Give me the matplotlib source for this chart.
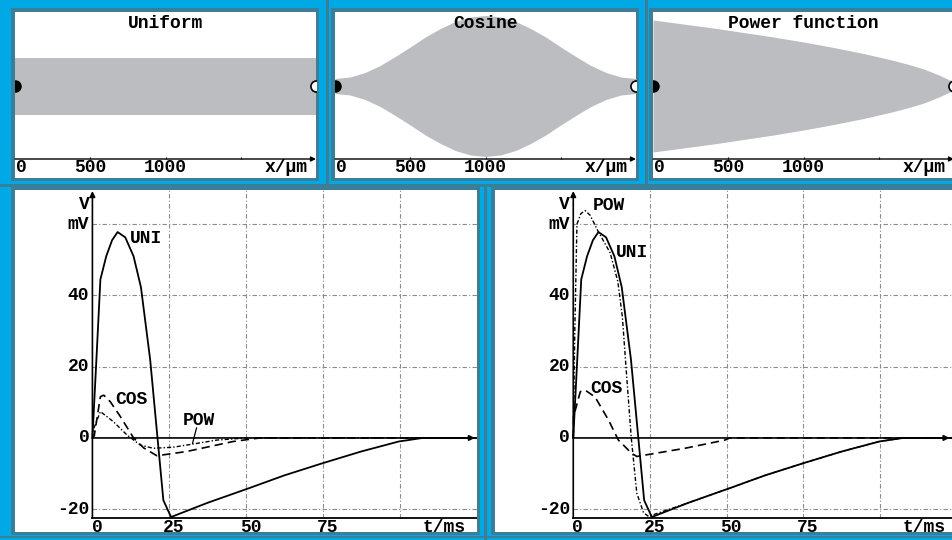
import matplotlib.pyplot as plt
from matplotlib.patches import Rectangle

W, H = 952, 540
BLUE = '#00a9e6'
TEAL = '#3a7e98'
GRAY = '#bcbdc1'
GRID = '#8c8c8c'
FONT = ['Liberation Mono', 'DejaVu Sans Mono']
FS = 13

# cable profiles: half-width of the drawn cable every 100 um
x_um = list(range(0, 2001, 100))
hw_uniform = [28.5] * 21
hw_cosine = [7.5, 9, 13.5, 20.5, 29.5, 39, 49, 57.5, 64.5, 69, 70.5,
             69, 64.5, 57.5, 49, 39, 29.5, 20.5, 13.5, 9, 7.5]
hw_power = [66, 64, 62, 60, 58, 55.8, 53.5, 51.3, 49, 46.5, 44,
            41.3, 38.5, 35.5, 32.5, 29, 25.5, 21.5, 17, 11, 4]
cable_titles = ['Uniform', 'Cosine', 'Power function']
cable_ticks = [0, 500, 1000]
cable_tick_labels = ['0', '500', '1000']

# membrane potential V (mV) vs t (ms)
t_uni = [0, 1.3, 2.6, 4.5, 6.4, 8.2, 10.7, 13.4, 15.8, 18.8, 23.1, 25.6,
         37.5, 51.3, 62.5, 74.9, 87.5, 99.7, 107.5, 125]
v_uni = [0, 22, 44.5, 51, 55.5, 57.8, 56.3, 51, 42.3, 22, -17.5, -22.2,
         -18.2, -14, -10.5, -7.1, -3.8, -1, 0, 0]

# left panel
t_cos_a = [0, 0.6, 2.6, 3.7, 5.8, 9.1, 13.4, 16.7, 21, 30.7, 45.8, 54.5, 125]
v_cos_a = [0, 0.6, 11.6, 12, 10.2, 6, 0, -2.8, -5, -3.8, -1, 0, 0]
t_pow_a = [0, 0.6, 2.6, 6.8, 11.3, 15.6, 19.8, 26.3, 32.8, 40.5, 50, 125]
v_pow_a = [0, 3, 7.4, 4.6, 0.8, -2, -2.9, -2.6, -1.7, -0.6, 0, 0]

# right panel
t_cos_b = [0, 0.1, 2.3, 3.9, 7.1, 11.5, 14.7, 19, 20.7, 36.4, 49.4, 51, 125]
v_cos_b = [0, 6, 13, 13.4, 11.5, 5, -0.6, -4.3, -5.2, -2.9, -0.6, 0, 0]
t_pow_b = [0, 0.5, 1.2, 2.5, 3.9, 5.5, 8.1, 12, 14.5, 16, 17, 18.9, 20.7,
           22.9, 24.5, 37.5, 51.3, 62.5, 74.9, 87.5, 99.7, 107.5, 125]
v_pow_b = [0, 30, 60, 63, 63.8, 62.5, 58, 52, 44, 34, 22, 0, -15.5,
           -21, -22, -18.2, -14, -10.5, -7.1, -3.8, -1, 0, 0]

grid_t = [25, 50, 75, 100]
grid_v = [60, 40, 20, -20]
tick_t = [0, 25, 50, 75]
tick_v = [40, 20, 0, -20]

fig = plt.figure(figsize=(W / 100, H / 100), dpi=100)
fig.patch.set_facecolor(BLUE)


def px_box(x0, y0, x1, y1):
    return [x0 / W, 1 - y1 / H, (x1 - x0) / W, (y1 - y0) / H]


def frect(x0, y0, x1, y1, color):
    fig.patches.append(Rectangle((x0 / W, 1 - y1 / H), (x1 - x0) / W, (y1 - y0) / H,
                                 transform=fig.transFigure, color=color, lw=0, zorder=-5))


# frame separators
frect(326, 0, 329, 186, TEAL)
frect(645, 0, 648, 186, TEAL)
frect(0, 184, 952, 187, TEAL)
frect(484, 187, 487, 540, TEAL)
frect(0, 536, 952, 538, TEAL)

top_boxes = [(15, 12, 316, 178), (335, 12, 636, 178), (653, 12, 954, 178)]
bottom_boxes = [(15, 190, 477, 532), (495, 190, 952, 532)]
for b in top_boxes + bottom_boxes:
    frect(b[0] - 4, b[1] - 4, b[2] + 3, b[3] + 3, TEAL)

txt = dict(family=FONT, weight='bold', fontsize=FS, va='center')

# cable panels
for box, title, hw in zip(top_boxes, cable_titles, [hw_uniform, hw_cosine, hw_power]):
    ax = fig.add_axes(px_box(*box))
    ax.set_xlim(0, 2000)
    ax.set_ylim(-92, 74)
    ax.axis('off')
    ax.add_patch(Rectangle((0, 0), 1, 1, transform=ax.transAxes, color='white', zorder=0))
    ax.fill_between(x_um, [-h for h in hw], hw, color=GRAY, lw=0, zorder=1)
    ax.plot(0, 0, 'o', ms=8, color='k', zorder=3)
    ax.plot(2000, 0, 'o', ms=8, mfc='white', mec='k', mew=1.2, zorder=3)
    ax.annotate('', xy=(2000, -73), xytext=(0, -73),
                arrowprops=dict(arrowstyle='-|>', color='k', lw=1.0,
                                mutation_scale=7, shrinkA=0, shrinkB=0))
    ax.vlines([500, 1000, 1500], -73, -70.5, color='k', lw=0.8)
    for xv, lab in zip(cable_ticks, cable_tick_labels):
        ax.text(xv + (40 if xv == 0 else 0), -82, lab, ha='center', **txt)
    ax.text(1800, -82, 'x/μm', ha='center', **txt)
    ax.text(1000, 63, title, ha='center', zorder=4, **txt)

# voltage panels
panels = [
    (bottom_boxes[0], (-25.2, 125.2), 124.5,
     [(t_cos_a, v_cos_a), (t_pow_a, v_pow_a)],
     [('UNI', 17.6, 56), ('COS', 12.7, 10.7), ('POW', 34.5, 4.8)]),
    (bottom_boxes[1], (-25.5, 123.4), 122.6,
     [(t_cos_b, v_cos_b), (t_pow_b, v_pow_b)],
     [('POW', 11.5, 65.3), ('UNI', 19.3, 52.1), ('COS', 10.8, 13.9)]),
]
for i, (box, xl, xarrow, curves, labels) in enumerate(panels):
    ax = fig.add_axes(px_box(*box))
    ax.set_xlim(*xl)
    ax.set_ylim(-26.4, 69.6)
    ax.axis('off')
    ax.add_patch(Rectangle((0, 0), 1, 1, transform=ax.transAxes, color='white', zorder=0))
    gl = dict(color=GRID, lw=0.8, linestyles=[(0, (4, 2, 1, 2))], zorder=1)
    ax.hlines(grid_v, 0, xl[1], **gl)
    ax.vlines(grid_t, -22.5, 69.6, **gl)
    # axes
    ax.plot([0, xl[1]], [-22.5, -22.5], color='k', lw=1.3, zorder=3)
    ax.annotate('', xy=(0, 69.3), xytext=(0, -22.5),
                arrowprops=dict(arrowstyle='-|>', color='k', lw=1.2,
                                mutation_scale=8, shrinkA=0, shrinkB=0), zorder=3)
    ax.annotate('', xy=(xarrow, 0), xytext=(0, 0),
                arrowprops=dict(arrowstyle='-|>', color='k', lw=1.2,
                                mutation_scale=8, shrinkA=0, shrinkB=0), zorder=3)
    # curves
    ax.plot(t_uni, v_uni, color='k', lw=1.3, zorder=4)
    ax.plot(*curves[0], color='k', lw=1.2, dashes=(5, 3), zorder=4)
    ax.plot(*curves[1], color='k', lw=1.0, dashes=(3, 1.5, 1, 1.5), zorder=4)
    # tick labels
    for v in tick_v:
        ax.text(-1.0, v, str(v), ha='right', **txt)
    ax.text(-1.0, 60, 'mV', ha='right', **txt)
    ax.text(-1.0, 65.6, 'V', ha='right', **txt)
    for t in tick_t:
        ax.text(t + 1.5, -25.1, str(t), ha='center', **txt)
    ax.text(114.4, -25.1, 't/ms', ha='center', **txt)
    for lab, lx, ly in labels:
        ax.text(lx, ly, lab, ha='center', zorder=5, **txt)
    if i == 0:
        ax.plot([33.9, 32.6], [2.8, -1.5], color='k', lw=0.9, zorder=4)

fig.savefig('out.png', dpi=100, facecolor=fig.get_facecolor())
